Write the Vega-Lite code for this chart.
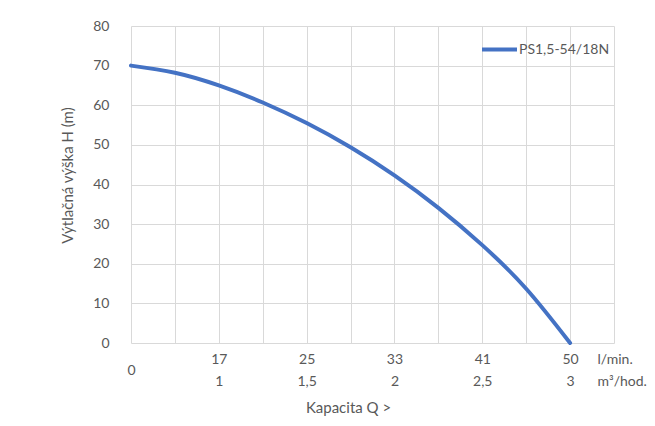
{
  "$schema": "https://vega.github.io/schema/vega-lite/v6.json",
  "autosize": {"type": "none"},
  "padding": {"left": 131, "top": 26, "right": 41, "bottom": 83},
  "width": 483,
  "height": 317,
  "background": "white",
  "config": {
    "view": {"stroke": null},
    "font": "Lato",
    "axis": {"labelColor": "#595959", "titleColor": "#595959", "gridColor": "#d9d9d9", "gridWidth": 1, "domain": false, "ticks": false, "labelFont": "Lato", "titleFont": "Lato", "titleFontWeight": "normal"}
  },
  "data": {
    "values": [
      {"q": 0, "h": 70.0, "s": "PS1,5-54/18N"},
      {"q": 1, "h": 68.2, "s": "PS1,5-54/18N"},
      {"q": 2, "h": 65.0, "s": "PS1,5-54/18N"},
      {"q": 3, "h": 60.7, "s": "PS1,5-54/18N"},
      {"q": 4, "h": 55.5, "s": "PS1,5-54/18N"},
      {"q": 5, "h": 49.4, "s": "PS1,5-54/18N"},
      {"q": 6, "h": 42.3, "s": "PS1,5-54/18N"},
      {"q": 7, "h": 34.1, "s": "PS1,5-54/18N"},
      {"q": 8, "h": 24.7, "s": "PS1,5-54/18N"},
      {"q": 9, "h": 13.7, "s": "PS1,5-54/18N"},
      {"q": 10, "h": 0.0, "s": "PS1,5-54/18N"}
    ]
  },
  "mark": {"type": "line", "interpolate": "natural", "strokeWidth": 4, "strokeCap": "round"},
  "encoding": {
    "x": {
      "field": "q", "type": "quantitative",
      "scale": {"domain": [0, 11], "nice": false, "zero": false},
      "axis": {
        "values": [0, 1, 2, 3, 4, 5, 6, 7, 8, 9, 10, 11],
        "labelExpr": "datum.value == 0 ? '0' : datum.value == 2 ? ['17', '1'] : datum.value == 4 ? ['25', '1,5'] : datum.value == 6 ? ['33', '2'] : datum.value == 8 ? ['41', '2,5'] : datum.value == 10 ? ['50', '3'] : datum.value == 11 ? ['l/min.', 'm³/hod.'] : ''",
        "labelFontSize": 14,
        "labelLineHeight": 22,
        "labelBaseline": "top",
        "labelPadding": {"expr": "datum.value == 0 ? 20 : 9"},
        "labelAlign": {"expr": "datum.value == 11 ? 'left' : 'center'"},
        "labelOffset": {"expr": "datum.value == 11 ? -17 : 0"},
        "labelOverlap": false,
        "labelFlush": false,
        "title": "Kapacita Q >",
        "titleFontSize": 15,
        "titleX": 217,
        "titleY": 64,
        "titleBaseline": "middle",
        "titleAnchor": null
      }
    },
    "y": {
      "field": "h", "type": "quantitative",
      "scale": {"domain": [0, 80], "nice": false},
      "axis": {
        "values": [0, 10, 20, 30, 40, 50, 60, 70, 80],
        "labelFontSize": 14,
        "labelPadding": 22,
        "title": "Výtlačná výška H (m)",
        "titleFontSize": 15,
        "titleAngle": -90,
        "titleX": -64,
        "titleY": 149,
        "titleAlign": "center",
        "titleBaseline": "middle"
      }
    },
    "color": {
      "field": "s", "type": "nominal",
      "scale": {"range": ["#4472C4"]},
      "legend": {
        "title": null,
        "orient": "none",
        "legendX": 349,
        "legendY": 4,
        "symbolType": "stroke",
        "symbolSize": 1225,
        "symbolStrokeWidth": 4,
        "labelFontSize": 14,
        "labelColor": "#595959",
        "labelFont": "Lato",
        "labelOffset": 0
      }
    }
  }
}
